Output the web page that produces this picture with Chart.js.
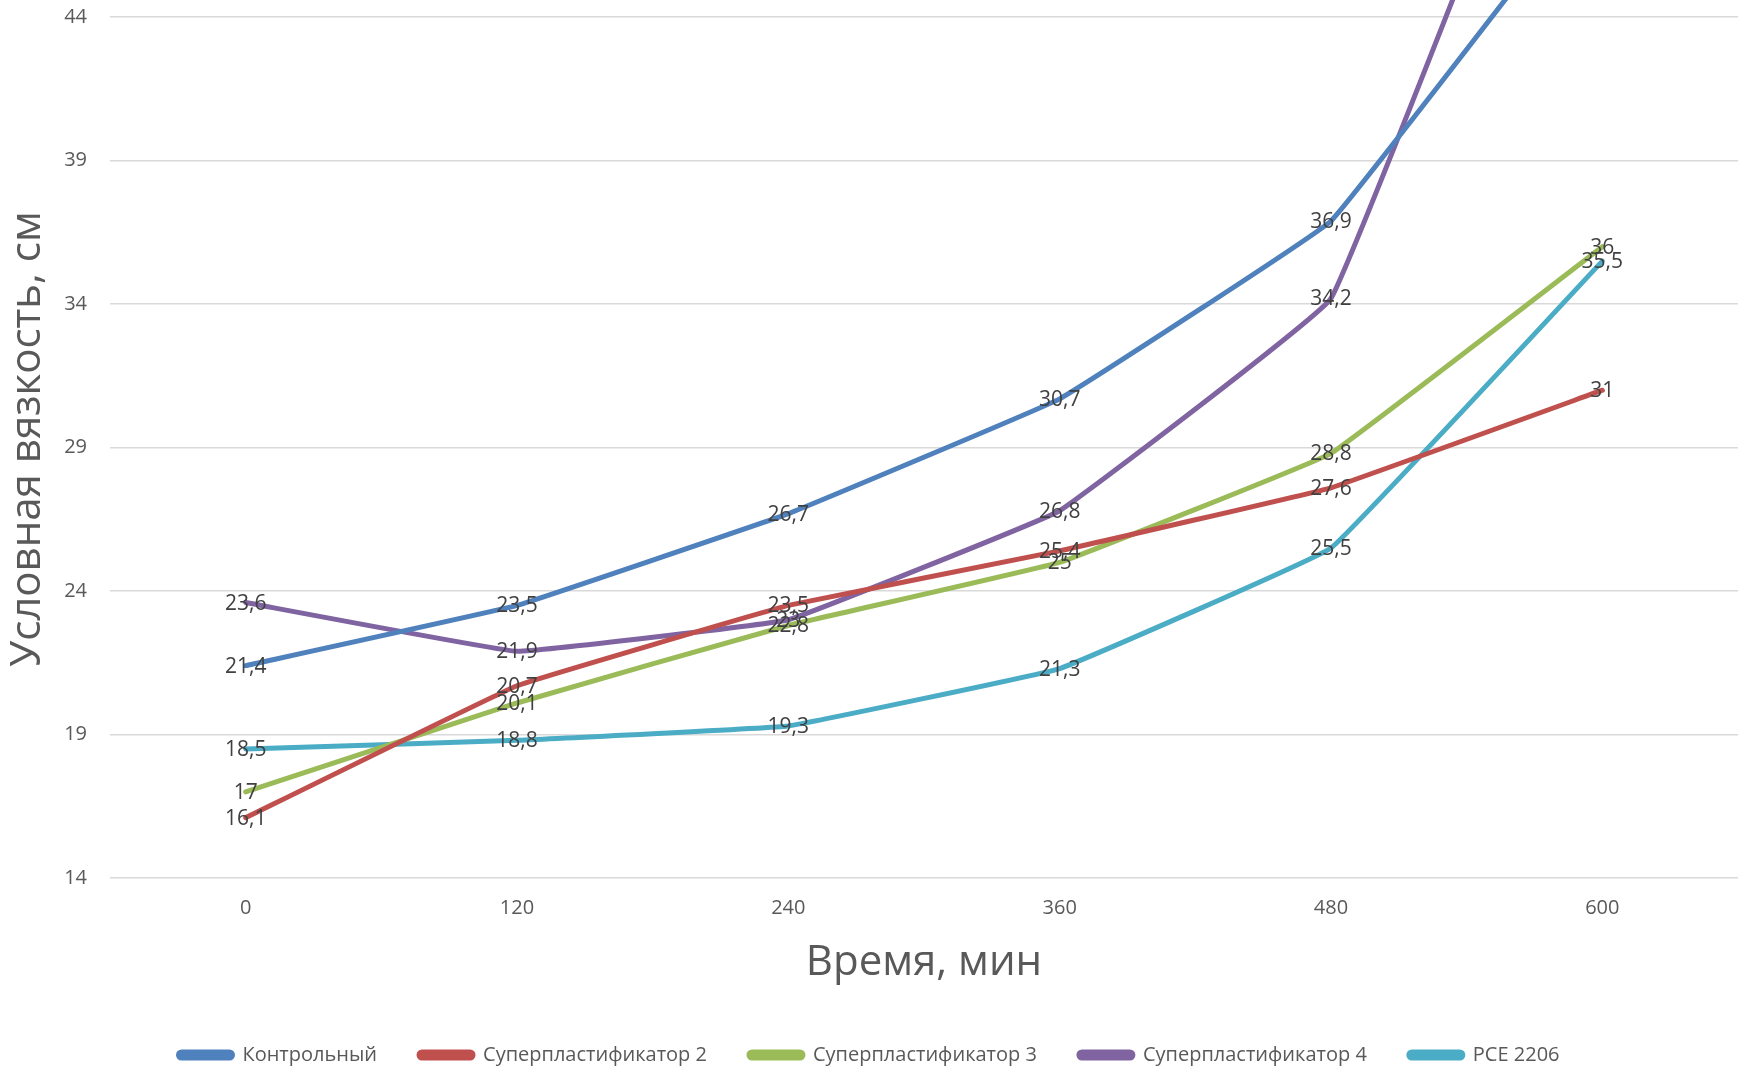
<!DOCTYPE html>
<html lang="ru">
<head>
<meta charset="utf-8">
<title>Условная вязкость во времени</title>
<script src="https://cdn.jsdelivr.net/npm/chart.js@4/dist/chart.umd.min.js"></script>
<style>
  html, body { margin: 0; padding: 0; background: #ffffff; }
  #wrap { width: 1740px; height: 1067px; }
</style>
</head>
<body>
<div id="wrap"><canvas id="chart" width="1740" height="1067"></canvas></div>
<script>
// Time points, minutes
const times = ['0', '120', '240', '360', '480', '600'];

// Conditional viscosity, cm
const control = [21.4, 23.5, 26.7, 30.7, 36.9, 49];
const sp2 = [16.1, 20.7, 23.5, 25.4, 27.6, 31];
const sp3 = [17, 20.1, 22.8, 25, 28.8, 36];
const sp4 = [23.6, 21.9, 23, 26.8, 34.2, 58];
const pce2206 = [18.5, 18.8, 19.3, 21.3, 25.5, 35.5];

const seriesNames = ['Контрольный', 'Суперпластификатор 2', 'Суперпластификатор 3', 'Суперпластификатор 4', 'PCE 2206'];
const seriesColors = ['#4F81BD', '#C0504D', '#9BBB59', '#8064A2', '#4BACC6'];

// Y axis tick values
const yTicks = [14, 19, 24, 29, 34, 39, 44];

Chart.defaults.font.family = "'Open Sans', sans-serif";
Chart.defaults.color = '#595959';

const seriesData = [control, sp2, sp3, sp4, pce2206];
const datasets = seriesData.map((values, i) => ({
  label: seriesNames[i],
  data: values,
  borderColor: seriesColors[i],
  backgroundColor: seriesColors[i],
  borderWidth: 5,
  borderRadius: 3,
  pointRadius: 0,
  pointHoverRadius: 0,
  tension: 0.06,
  capBezierPoints: false,
  borderCapStyle: 'round',
  borderJoinStyle: 'round',
  fill: false
}));

// Value labels centred on each point inside the plot area
const valueLabels = {
  id: 'valueLabels',
  afterDatasetsDraw(chart) {
    const { ctx, chartArea } = chart;
    ctx.save();
    ctx.font = "21px 'Open Sans', sans-serif";
    ctx.fillStyle = '#404040';
    ctx.textAlign = 'center';
    ctx.textBaseline = 'middle';
    chart.data.datasets.forEach((ds, di) => {
      const meta = chart.getDatasetMeta(di);
      meta.data.forEach((pt, i) => {
        if (pt.y < chartArea.top || pt.y > chartArea.bottom) return;
        const text = String(ds.data[i]).replace('.', ',');
        ctx.fillText(text, pt.x, pt.y + 1);
      });
    });
    ctx.restore();
  }
};

new Chart(document.getElementById('chart'), {
  type: 'line',
  data: { labels: times, datasets },
  plugins: [valueLabels],
  options: {
    responsive: false,
    animation: false,
    events: [],
    layout: { padding: { left: 0, right: 2, top: 0, bottom: -8 } },
    plugins: {
      tooltip: { enabled: false },
      legend: {
        position: 'bottom',
        align: 'center',
        labels: {
          boxWidth: 54,
          boxHeight: 6,
          useBorderRadius: true,
          borderRadius: 3,
          padding: 42,
          color: '#595959',
          font: { size: 20 }
        }
      }
    },
    scales: {
      x: {
        offset: true,
        grid: { display: false, drawTicks: false },
        border: { display: false },
        ticks: { padding: 18, color: '#595959', font: { size: 20 } },
        title: {
          display: true,
          text: 'Время, мин',
          color: '#595959',
          font: { size: 42 },
          padding: { top: 0, bottom: 15 }
        },
        afterFit(scale) {
          scale.height = 125;
          scale.paddingLeft = 0;
          scale.paddingRight = 0;
        }
      },
      y: {
        min: 14,
        max: 44.6,
        afterBuildTicks(scale) {
          scale.ticks = yTicks.map(v => ({ value: v }));
        },
        grid: { color: '#D9D9D9', lineWidth: 1.5, drawTicks: false },
        border: { display: false },
        ticks: { padding: 23, color: '#595959', font: { size: 20 } },
        title: {
          display: true,
          text: 'Условная вязкость, см',
          color: '#595959',
          font: { size: 42 },
          padding: { top: 3, bottom: 0 }
        },
        afterFit(scale) {
          scale.width = 110;
          scale.paddingTop = 0;
          scale.paddingBottom = 0;
        }
      }
    }
  }
});
</script>
</body>
</html>
